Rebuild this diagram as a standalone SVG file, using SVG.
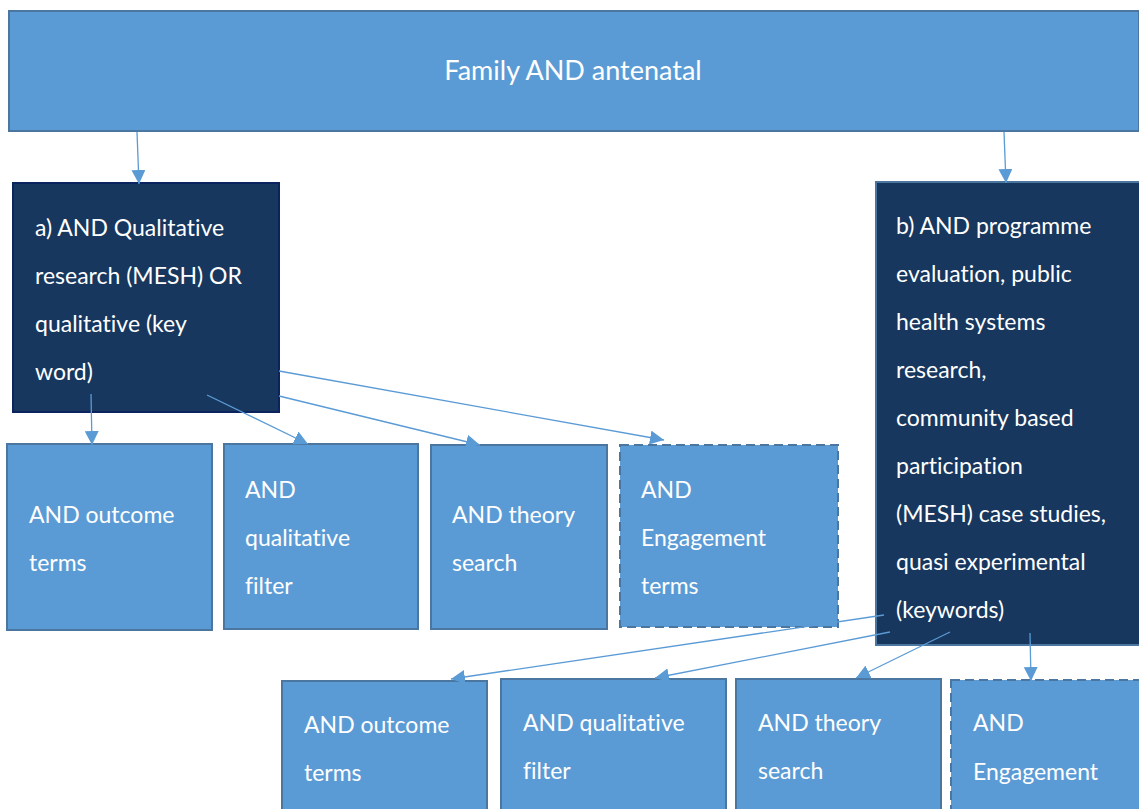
<svg xmlns="http://www.w3.org/2000/svg" width="1139" height="809" viewBox="0 0 1139 809">
<style>
.lb{fill:#5B9BD5;stroke:#4A76A0;stroke-width:2}
.dash{stroke-dasharray:9 5}
.dk{fill:#17375E;stroke:#0B2460;stroke-width:2}
.dk2{fill:#17375E;stroke:#4A76A0;stroke-width:2}
text{font-family:Lato,"Open Sans","Liberation Sans",sans-serif;font-size:23px;fill:#fff;font-variant-ligatures:none}
.t{font-size:27px}
.c line{stroke:#5B9BD5;stroke-width:1.3;fill:none}
</style>
<defs>
<marker id="ah" viewBox="0 0 10 10" refX="10" refY="5" markerWidth="14" markerHeight="14" markerUnits="userSpaceOnUse" orient="auto">
<path d="M0,0 L10,5 L0,10 z" fill="#5B9BD5"/>
</marker>
</defs>
<rect width="1139" height="809" fill="#fff"/>
<g id="top"><rect class="lb" x="9" y="11" width="1130" height="120"/><text class="t" x="573" y="80" text-anchor="middle">Family AND antenatal</text></g>
<g id="a"><rect class="dk" x="13" y="183" width="266" height="229"/>
<text x="35" y="236">a) AND Qualitative</text><text x="35" y="284">research (MESH) OR</text><text x="35" y="332">qualitative (key</text><text x="35" y="380">word)</text></g>
<g id="b"><rect class="dk2" x="876" y="182" width="265" height="463"/>
<text x="896" y="234">b) AND programme</text><text x="896" y="282">evaluation, public</text><text x="896" y="330">health systems</text><text x="896" y="378">research,</text><text x="896" y="426">community based</text><text x="896" y="474">participation</text><text x="896" y="522">(MESH) case studies,</text><text x="896" y="570">quasi experimental</text><text x="896" y="618">(keywords)</text></g>
<g id="a1"><rect class="lb" x="7" y="444" width="205" height="186"/><text x="29" y="523">AND outcome</text><text x="29" y="571">terms</text></g>
<g id="a2"><rect class="lb" x="224" y="444" width="194" height="185"/><text x="245" y="498">AND</text><text x="245" y="546">qualitative</text><text x="245" y="594">filter</text></g>
<g id="a3"><rect class="lb" x="431" y="445" width="176" height="184"/><text x="452" y="523">AND theory</text><text x="452" y="571">search</text></g>
<g id="a4"><rect class="lb dash" x="620" y="445" width="218" height="182"/><text x="641" y="498">AND</text><text x="641" y="546">Engagement</text><text x="641" y="594">terms</text></g>
<g id="b1"><rect class="lb" x="282" y="681" width="205" height="140"/><text x="304" y="733">AND outcome</text><text x="304" y="781">terms</text></g>
<g id="b2"><rect class="lb" x="501" y="679" width="225" height="140"/><text x="523" y="731">AND qualitative</text><text x="523" y="779">filter</text></g>
<g id="b3"><rect class="lb" x="736" y="679" width="205" height="140"/><text x="758" y="731">AND theory</text><text x="758" y="779">search</text></g>
<g id="b4"><rect class="lb dash" x="951" y="680" width="200" height="140"/><text x="973" y="731">AND</text><text x="973" y="780">Engagement</text></g>
<g class="c" id="connectors">
<line x1="137" y1="132" x2="139" y2="184" marker-end="url(#ah)"/>
<line x1="1004" y1="132" x2="1006" y2="183" marker-end="url(#ah)"/>
<line x1="91" y1="394" x2="92" y2="445" marker-end="url(#ah)"/>
<line x1="207" y1="395" x2="308" y2="444" marker-end="url(#ah)"/>
<line x1="279" y1="396" x2="480" y2="445" marker-end="url(#ah)"/>
<line x1="279" y1="371" x2="664" y2="440" marker-end="url(#ah)"/>
<line x1="884" y1="615" x2="451" y2="679" marker-end="url(#ah)"/>
<line x1="890" y1="632" x2="655" y2="678" marker-end="url(#ah)"/>
<line x1="950" y1="632" x2="856" y2="678" marker-end="url(#ah)"/>
<line x1="1030" y1="633" x2="1031" y2="681" marker-end="url(#ah)"/>
</g>
</svg>
